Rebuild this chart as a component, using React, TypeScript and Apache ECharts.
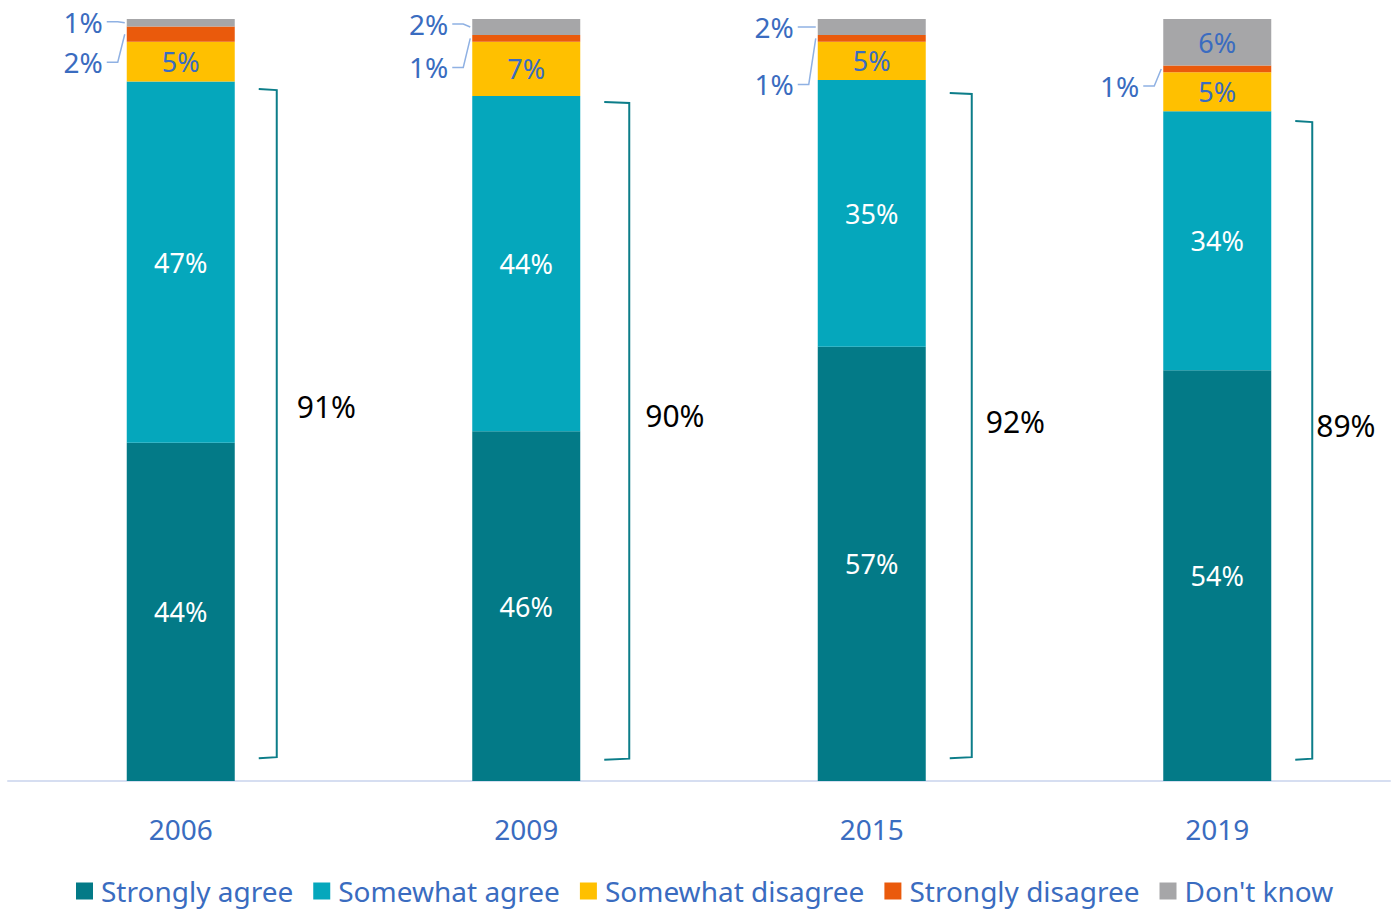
import React, { useEffect, useRef } from "react";
import * as echarts from "echarts";

// ---- data ----
const categories = ["2006", "2009", "2015", "2019"];
const seriesNames = ["Strongly agree", "Somewhat agree", "Somewhat disagree", "Strongly disagree", "Don't know"];
const stronglyAgree = [44.4, 45.9, 57.0, 53.9];
const somewhatAgree = [47.4, 44.0, 35.0, 34.0];
const somewhatDisagree = [5.2, 7.1, 5.0, 5.1];
const stronglyDisagree = [2.0, 0.9, 0.9, 0.9];
const dontKnow = [1.0, 2.1, 2.1, 6.1];
const agreeTotals = [91, 90, 92, 89];
const bracketLow = [3.0, 2.8, 3.0, 2.8];
const bracketHigh = [90.8, 89.1, 90.3, 86.6];

// ---- layout / style config ----
const BAR_W = 108;
const FONT = "'Noto Sans', 'Open Sans', sans-serif";
const BLUE_TEXT = "#3A6CC0";
const colors = ["#037A87", "#05A7BC", "#FFC000", "#EA5A0C", "#A6A6A8"];
const labelColors = ["#FFFFFF", "#FFFFFF", BLUE_TEXT, BLUE_TEXT, BLUE_TEXT];
const leaderOffsets: Record<number, number[]> = {
  3: [28, 29, 46, 17],
  4: [-1, -3, 0, 0],
};
const bracketLineOffset = [42, 49, 46, 41];
const bracketLabelOffset = [62, 65, 60, 45];
const bracketLabelAt = [49.1, 48.0, 47.2, 46.6];

export default function App() {
  const ref = useRef<HTMLDivElement>(null);
  useEffect(() => {
    document.body.style.margin = "0";
    if (!ref.current) return;
    const chart = echarts.init(ref.current, null, { renderer: "svg" });
    const all = [stronglyAgree, somewhatAgree, somewhatDisagree, stronglyDisagree, dontKnow];

    const barSeries = all.map((vals, si) => ({
      name: seriesNames[si],
      type: "bar",
      stack: "total",
      barWidth: BAR_W,
      data: vals,
      itemStyle: { color: colors[si] },
      label: {
        show: true,
        position: "inside",
        color: labelColors[si],
        fontSize: 27,
        fontFamily: FONT,
        formatter: (p: any) => (p.value < 4 ? "" : Math.round(p.value) + "%"),
      },
      emphasis: { disabled: true },
    }));

    // leader-labelled small segments
    const leaderItems: any[] = [];
    const leaderTexts: string[] = [];
    const leaderDy: number[] = [];
    categories.forEach((_, ci) => {
      [3, 4].forEach((si) => {
        const v = all[si][ci];
        if (v >= 4) return;
        let base = 0;
        for (let k = 0; k < si; k++) base += all[k][ci];
        leaderItems.push([ci, base + v / 2]);
        leaderTexts.push(Math.round(v) + "%");
        leaderDy.push(leaderOffsets[si][ci]);
      });
    });

    const leaderSeries = {
      type: "custom",
      name: "leaders",
      data: leaderItems,
      encode: { x: 0, y: 1 },
      z: 5,
      silent: true,
      renderItem: (params: any, api: any) => {
        const p = api.coord([api.value(0), api.value(1)]);
        const i = params.dataIndex;
        const barLeft = p[0] - BAR_W / 2;
        const ly = p[1] + leaderDy[i];
        return {
          type: "group",
          children: [
            {
              type: "polyline",
              shape: { points: [[barLeft - 20, ly], [barLeft - 9, ly], [barLeft - 2, p[1]]] },
              style: { stroke: "#8FB1E3", lineWidth: 1.5, fill: null },
            },
            {
              type: "text",
              style: {
                text: leaderTexts[i],
                x: barLeft - 24,
                y: ly,
                align: "right",
                verticalAlign: "middle",
                fill: BLUE_TEXT,
                font: `28px ${FONT}`,
              },
            },
          ],
        };
      },
    };

    const bracketSeries = {
      type: "custom",
      name: "brackets",
      data: categories.map((_, ci) => [ci, bracketLow[ci], bracketHigh[ci]]),
      encode: { x: 0, y: [1, 2] },
      z: 5,
      silent: true,
      renderItem: (params: any, api: any) => {
        const i = params.dataIndex;
        const ci = api.value(0);
        const top = api.coord([ci, api.value(2)]);
        const bot = api.coord([ci, api.value(1)]);
        const lab = api.coord([ci, bracketLabelAt[i]]);
        const barRight = top[0] + BAR_W / 2;
        const vx = barRight + bracketLineOffset[i];
        const tx = barRight + 24;
        return {
          type: "group",
          children: [
            {
              type: "polyline",
              shape: { points: [[tx, top[1]], [vx, top[1] + 1], [vx, bot[1] - 1], [tx, bot[1]]] },
              style: { stroke: "#0C7D89", lineWidth: 2, fill: null },
            },
            {
              type: "text",
              style: {
                text: agreeTotals[i] + "%",
                x: barRight + bracketLabelOffset[i],
                y: lab[1],
                align: "left",
                verticalAlign: "middle",
                fill: "#000000",
                font: `30px ${FONT}`,
              },
            },
          ],
        };
      },
    };

    chart.setOption({
      animation: false,
      textStyle: { fontFamily: FONT },
      grid: { left: 8, right: 5, top: 19, bottom: 130 },
      legend: {
        data: seriesNames,
        bottom: 1,
        left: 71,
        icon: "rect",
        itemWidth: 17,
        itemHeight: 17,
        itemGap: 20,
        selectedMode: false,
        textStyle: { color: BLUE_TEXT, fontSize: 28, fontFamily: FONT, padding: [0, 0, 0, 3] },
      },
      xAxis: {
        type: "category",
        data: categories,
        axisTick: { show: false },
        axisLine: { lineStyle: { color: "#D6DEF1", width: 2 } },
        axisLabel: { color: BLUE_TEXT, fontSize: 28, margin: 34, fontFamily: FONT },
      },
      yAxis: { type: "value", min: 0, max: 100, show: false, splitLine: { show: false } },
      series: [...barSeries, leaderSeries, bracketSeries],
    });
    return () => chart.dispose();
  }, []);
  return <div ref={ref} style={{ width: 1395, height: 911 }} />;
}
